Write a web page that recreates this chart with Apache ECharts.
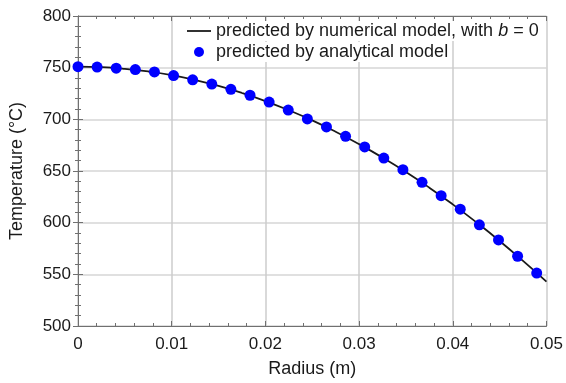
<!DOCTYPE html>
<html>
<head>
<meta charset="utf-8">
<script src="https://cdn.jsdelivr.net/npm/echarts@6/dist/echarts.min.js"></script>
<style>html,body{margin:0;padding:0;background:#fff}#c{width:566px;height:383px}</style>
</head>
<body>
<div id="c"></div>
<script>
// Analytical model points (radius m, temperature °C)
const analyticalR = [0, 0.00204, 0.00408, 0.00612, 0.00816, 0.0102, 0.01224, 0.01428, 0.01632, 0.01836,
  0.0204, 0.02244, 0.02448, 0.02652, 0.02856, 0.0306, 0.03264, 0.03468, 0.03672, 0.03876,
  0.0408, 0.04284, 0.04488, 0.04692, 0.04896];
const analyticalT = [751, 750.6, 749.5, 748.2, 745.9, 742.3, 738.2, 734.1, 729, 723.3,
  716.7, 709, 700.4, 692.6, 683.6, 673.3, 662.5, 651.3, 639, 626.1,
  613.1, 597.9, 583.3, 567.5, 551.2];
// Numerical model curve (b = 0)
const numericR = [0, 0.0025, 0.005, 0.0075, 0.01, 0.0125, 0.015, 0.0175, 0.02, 0.0225, 0.025,
  0.0275, 0.03, 0.0325, 0.035, 0.0375, 0.04, 0.0425, 0.045, 0.0475, 0.05];
const numericT = [751, 750.5, 748.9, 746.3, 742.7, 738, 732.3, 725.5, 717.7, 708.8, 699,
  688, 676, 663, 649, 633.9, 617.7, 600.5, 582.3, 563, 543];
const xTickLabels = ['0', '0.01', '0.02', '0.03', '0.04', '0.05'];
const yTickLabels = ['500', '550', '600', '650', '700', '750', '800'];
const seriesNames = ['predicted by numerical model, with b = 0', 'predicted by analytical model'];

const FONT = '"Liberation Sans", Arial, sans-serif';
const TXT = '#1a1a1a';
const chart = echarts.init(document.getElementById('c'), null, {renderer: 'canvas'});
const frame = {show: true, lineStyle: {color: '#707070', width: 1}};
const xBase = {
  type: 'value', min: 0, max: 0.05, interval: 0.01,
  axisLine: frame,
  axisTick: {show: true, inside: true, length: 5, lineStyle: {color: '#707070'}},
  minorTick: {show: true, splitNumber: 5, length: 3, lineStyle: {color: '#707070'}}
};
const yBase = {
  type: 'value', min: 500, max: 800, interval: 50,
  axisLine: frame,
  axisTick: {show: true, inside: true, length: 5, lineStyle: {color: '#707070'}},
  minorTick: {show: true, splitNumber: 5, length: 3, lineStyle: {color: '#707070'}}
};
const option = {
  backgroundColor: '#fff',
  animation: false,
  grid: {left: 76.7, right: 18.3, top: 16, bottom: 51.3, containLabel: false},
  legend: {
    orient: 'vertical', left: 187, top: 21, itemGap: 1,
    itemWidth: 24, itemHeight: 10, padding: 0,
    data: [
      {name: seriesNames[0], icon: 'path://M0,0 H24 V1.8 H0 Z', itemStyle: {color: TXT}},
      {name: seriesNames[1], icon: 'circle'}
    ],
    formatter: function (n) {
      if (n === seriesNames[0]) return '{n|predicted by numerical model, with }{i|b}{n| = 0}';
      return '{n|' + n + '}';
    },
    textStyle: {
      fontFamily: FONT, fontSize: 18, color: TXT,
      rich: {
        n: {fontFamily: FONT, fontSize: 18, color: TXT, backgroundColor: '#fff', padding: [1, 0, 1, 0]},
        i: {fontFamily: FONT, fontSize: 18, color: TXT, fontStyle: 'italic', backgroundColor: '#fff', padding: [1, 0, 1, 0]}
      }
    }
  },
  xAxis: [
    Object.assign({}, xBase, {
      position: 'bottom',
      name: 'Radius (m)', nameLocation: 'middle', nameGap: 34,
      nameTextStyle: {fontFamily: FONT, fontSize: 18, color: TXT},
      axisLabel: {fontFamily: FONT, fontSize: 17, color: TXT, margin: 10,
        formatter: function (v) { return xTickLabels[Math.round(v / 0.01)]; }},
      splitLine: {show: true, lineStyle: {color: '#cdcdcd', width: 1.5}}
    }),
    Object.assign({}, xBase, {position: 'top', axisLabel: {show: false}, splitLine: {show: false}})
  ],
  yAxis: [
    Object.assign({}, yBase, {
      position: 'left',
      name: 'Temperature (°C)', nameLocation: 'middle', nameGap: 52, nameRotate: 90,
      nameTextStyle: {fontFamily: FONT, fontSize: 18, color: TXT},
      axisLabel: {fontFamily: FONT, fontSize: 17, color: TXT, margin: 7,
        formatter: function (v) { return yTickLabels[Math.round((v - 500) / 50)]; }},
      splitLine: {show: true, lineStyle: {color: '#d6d6d6', width: 1.5}}
    }),
    Object.assign({}, yBase, {position: 'right', axisLabel: {show: false}, splitLine: {show: false}})
  ],
  series: [
    {
      name: seriesNames[0], type: 'line', xAxisIndex: 0, yAxisIndex: 0,
      data: numericR.map((r, i) => [r, numericT[i]]),
      smooth: true, showSymbol: false, symbol: 'none',
      lineStyle: {color: TXT, width: 1.8}, itemStyle: {color: TXT},
      z: 3
    },
    {
      name: seriesNames[1], type: 'scatter', xAxisIndex: 0, yAxisIndex: 0,
      data: analyticalR.map((r, i) => [r, analyticalT[i]]),
      symbol: 'circle', symbolSize: 11,
      itemStyle: {color: '#0000ff', opacity: 1},
      z: 4
    }
  ]
};
chart.setOption(option);
</script>
</body>
</html>
